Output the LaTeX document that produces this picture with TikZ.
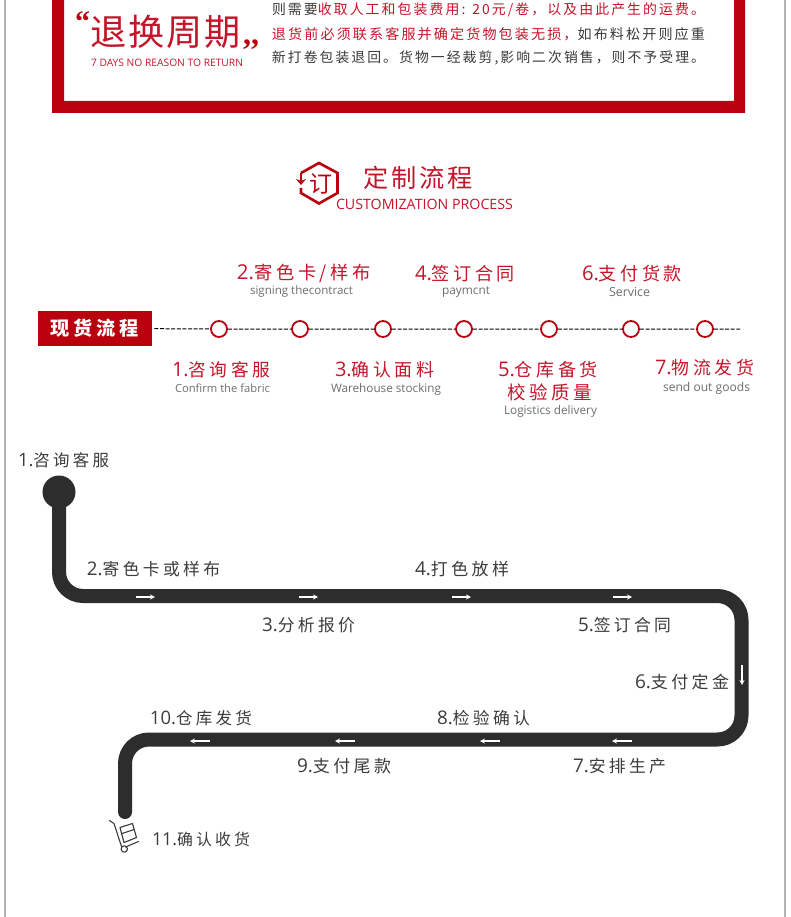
\documentclass[tikz,border=0pt]{standalone}
\usepackage{fontspec}
\usepackage{graphicx}
\usetikzlibrary{arrows.meta}
\setmainfont{Noto Sans CJK SC}
\newfontfamily\cjkbody[LetterSpace=15]{Noto Sans CJK SC}
\newfontfamily\cjklab[LetterSpace=20]{Noto Sans CJK SC}
\newfontfamily\cjktitle[LetterSpace=12]{Noto Sans CJK SC}
\newfontfamily\cjkbig[LetterSpace=5]{Noto Sans CJK SC}
\newfontfamily\latinfont{Open Sans}
\newfontfamily\quotefont{Liberation Serif}
\definecolor{framered}{HTML}{B8000F}
\definecolor{textred}{HTML}{C4152A}
\definecolor{bodydark}{HTML}{3A3A3A}
\definecolor{labdark}{HTML}{3C3C3C}
\definecolor{subgray}{HTML}{6E6E6E}
\definecolor{trackdark}{HTML}{2D2D2D}
\definecolor{sideline}{HTML}{B4B4B4}
\tikzset{
  lbl/.style={inner sep=0pt,outer sep=0pt,anchor=center},
  bodytxt/.style={lbl,text=bodydark,font=\cjkbody\fontsize{14}{16}\selectfont},
  redlab/.style={lbl,text=textred,font=\cjklab\fontsize{18}{20}\selectfont},
  sublab/.style={lbl,text=subgray,font=\latinfont\fontsize{12}{14}\selectfont},
  darklab/.style={lbl,text=labdark,font=\cjklab\fontsize{16.5}{18}\selectfont},
  stopdot/.style={circle,draw=framered,line width=1.8pt,fill=white,minimum size=16pt,inner sep=0pt},
  track/.style={draw=trackdark,line width=14pt,line cap=round,line join=round},
  flowarrow/.style={draw=white,line width=1.1pt,-{Stealth[length=5pt,width=5pt]}},
  iconline/.style={draw=framered,line width=2.6pt,line join=miter},
  cartline/.style={draw=labdark,line width=1.1pt,line cap=round,line join=round},
}
\newcommand{\nn}[1]{{\latinfont\scalebox{1.12}{#1}}}
\newcommand{\lab}[6]{%
  \pgfmathsetmacro{\labw}{#3-#2}%
  \pgfmathsetmacro{\labx}{(#2+#3)/2}%
  \node[#5] (#1) at (\labx,#4) {\resizebox{\labw pt}{!}{#6}};}
\begin{document}
\begin{tikzpicture}[x=1pt,y=-1pt]
\useasboundingbox (0,0) rectangle (790,917);
\fill[white] (0,0) rectangle (790,917);
% page side lines
\draw[sideline,line width=1.6pt] (5,0) -- (5,917);
\draw[sideline,line width=1.6pt] (785,0) -- (785,917);
% red frame
\fill[framered,even odd rule] (52,0) rectangle (745,113) (64,0) rectangle (734,101);
% return heading
\lab{quoteL}{75}{90}{22}{lbl,text=framered,font=\quotefont\bfseries\fontsize{44}{44}\selectfont}{“}
\lab{rettitle}{91}{241}{32}{lbl,text=textred,font=\cjkbig\fontsize{36}{38}\selectfont}{退换周期}
\lab{quoteR}{243}{259}{45}{lbl,text=framered,font=\quotefont\bfseries\fontsize{40}{40}\selectfont}{,,}
\lab{retsub}{91}{243}{63}{lbl,text=textred,font=\latinfont\fontsize{10}{12}\selectfont}{7 DAYS NO REASON TO RETURN}
\lab{line1}{272}{705}{10}{bodytxt}{则需要\textcolor{textred}{收取人工和包装费用: 20元/卷，以及由此产生的运费。}}
\lab{line2}{272}{705}{34}{bodytxt}{\textcolor{textred}{退货前必须联系客服并确定货物包装无损，}如布料松开则应重}
\lab{line3}{272}{705}{58}{bodytxt}{新打卷包装退回。货物一经裁剪,影响二次销售，则不予受理。}
% title
\draw[iconline] (301,173) -- (319,163) -- (337.5,173) -- (337.5,193) -- (319,203.5) -- (301,193) -- (301,188);
\draw[iconline,-{Stealth[length=6pt,width=10pt]}] (301,173) -- (301,185);
\lab{iconchar}{309}{332}{184}{lbl,text=framered,font=\fontsize{20}{22}\selectfont}{订}
\lab{ttitle}{363}{473}{178}{lbl,text=textred,font=\cjktitle\fontsize{25}{27}\selectfont}{定制流程}
\lab{tsub}{336}{513}{204}{lbl,text=textred,font=\latinfont\fontsize{16}{18}\selectfont}{CUSTOMIZATION PROCESS}
% banner and dashed line
\node[fill=framered,minimum width=114pt,minimum height=35pt,inner sep=0pt,anchor=north west] (banner) at (38,311) {};
\lab{bannertxt}{51}{139}{328.5}{lbl,text=white,font=\cjklab\bfseries\fontsize{19}{21}\selectfont}{现货流程}
\coordinate (dashend) at (740,329);
\node[stopdot] (s1) at (219,329) {};
\node[stopdot] (s2) at (300,329) {};
\node[stopdot] (s3) at (383,329) {};
\node[stopdot] (s4) at (464,329) {};
\node[stopdot] (s5) at (549,329) {};
\node[stopdot] (s6) at (631,329) {};
\node[stopdot] (s7) at (705,329) {};
\draw[black,line width=1pt,dash pattern=on 4pt off 1.6pt] (banner.east) ++(2,0) -- (s1) (s1) -- (s2) (s2) -- (s3) (s3) -- (s4) (s4) -- (s5) (s5) -- (s6) (s6) -- (s7) (s7) -- (dashend);
% stage labels
\lab{a2}{237}{371}{273.5}{redlab}{\nn{2.}寄色卡/样布}
\lab{a2s}{250}{353}{291.5}{sublab}{signing thecontract}
\lab{a4}{415}{515}{273.5}{redlab}{\nn{4.}签订合同}
\lab{a4s}{442}{490}{292}{sublab}{paymcnt}
\lab{a6}{582}{682}{273.5}{redlab}{\nn{6.}支付货款}
\lab{a6s}{609}{650}{292}{sublab}{Service}
\lab{a1}{172}{270}{370}{redlab}{\nn{1.}咨询客服}
\lab{a1s}{175}{270}{388}{sublab}{Confirm the fabric}
\lab{a3}{335}{434}{370}{redlab}{\nn{3.}确认面料}
\lab{a3s}{331}{441}{389.5}{sublab}{Warehouse stocking}
\lab{a5}{498}{598}{370}{redlab}{\nn{5.}仓库备货}
\lab{a5b}{507}{592}{392}{redlab}{校验质量}
\lab{a5s}{504}{597}{411.5}{sublab}{Logistics delivery}
\lab{a7}{655}{754}{368}{redlab}{\nn{7.}物流发货}
\lab{a7s}{663}{750}{388.5}{sublab}{send out goods}
% track
\node[circle,fill=trackdark,minimum size=33pt,inner sep=0pt] (start) at (59,492) {};
\coordinate (c1) at (59,596);
\coordinate (c2) at (741.5,596);
\coordinate (c3) at (741.5,739.5);
\coordinate (c4) at (125,739.5);
\coordinate (trackend) at (125,812);
\draw[track,rounded corners=24pt] (start.center) -- (c1) -- (c2) -- (c3) -- (c4) -- (trackend);
% white arrows
\foreach \n/\xa/\ya/\xb/\yb in {r1/136/597/155/597,r2/299/597/318/597,r3/452/597/471/597,r4/613/597/632/597,
  d1/742/665/742/685,l1/632/741/612/741,l2/500/741/480/741,l3/355/741/335/741,l4/210/741/190/741}{
  \coordinate (\n a) at (\xa,\ya);
  \coordinate (\n b) at (\xb,\yb);
  \draw[flowarrow] (\n a) -- (\n b);
}
% track labels
\lab{b1}{18}{109}{460.5}{darklab}{\nn{1.}咨询客服}
\lab{b2}{87}{220}{569}{darklab}{\nn{2.}寄色卡或样布}
\lab{b3}{262}{355}{625}{darklab}{\nn{3.}分析报价}
\lab{b4}{415}{509}{569}{darklab}{\nn{4.}打色放样}
\lab{b5}{578}{671}{625}{darklab}{\nn{5.}签订合同}
\lab{b6}{635}{729}{681.5}{darklab}{\nn{6.}支付定金}
\lab{b7}{573}{666}{766.5}{darklab}{\nn{7.}安排生产}
\lab{b8}{437}{530}{718.5}{darklab}{\nn{8.}检验确认}
\lab{b9}{297}{391}{766}{darklab}{\nn{9.}支付尾款}
\lab{b10}{150}{252}{718}{darklab}{\nn{10.}仓库发货}
\lab{b11}{152}{250}{839}{darklab}{\nn{11.}确认收货}
% hand truck
\draw[cartline] (109.5,820.5) -- (114,823.5) -- (121.5,846.5);
\draw[cartline] (125.5,847) -- (138.5,841.5);
\draw[cartline] (120,827.5) -- (132.5,823.5) -- (136.5,837.5) -- (124,842.5) -- cycle;
\draw[cartline] (122,833.5) -- (134,829.5);
\draw[cartline] (124.3,849) circle (3.2pt);
\end{tikzpicture}
\end{document}
